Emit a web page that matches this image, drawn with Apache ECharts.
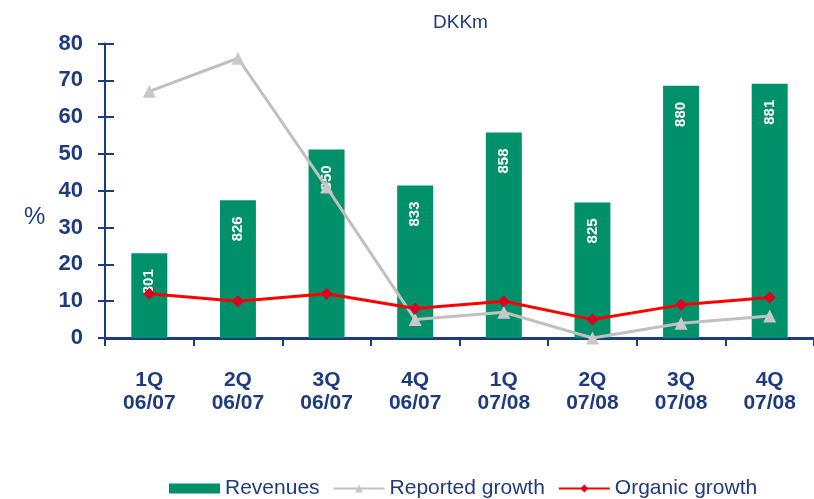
<!DOCTYPE html>
<html>
<head>
<meta charset="utf-8">
<script src="https://cdn.jsdelivr.net/npm/echarts@6/dist/echarts.min.js"></script>
<style>
  html, body { margin: 0; padding: 0; background: #fff; }
  #chart { width: 814px; height: 499px; }
</style>
</head>
<body>
<div id="chart"></div>
<script>
  var quarters = ['1Q\n06/07', '2Q\n06/07', '3Q\n06/07', '4Q\n06/07', '1Q\n07/08', '2Q\n07/08', '3Q\n07/08', '4Q\n07/08'];
  var revenues = [801, 826, 850, 833, 858, 825, 880, 881];
  var reportedGrowth = [67, 76, 41, 5, 7, 0, 4, 6];
  var organicGrowth = [12, 10, 12, 8, 10, 5, 9, 11];
  var pctTicks = [0, 10, 20, 30, 40, 50, 60, 70, 80];

  var navy = '#1f3b7f';
  var font = '"Liberation Sans", Arial, sans-serif';

  var myChart = echarts.init(document.getElementById('chart'));

  var option = {
    animation: false,
    textStyle: { fontFamily: font },
    title: {
      text: 'DKKm',
      left: 428,
      top: 8,
      textStyle: { color: navy, fontSize: 19, fontWeight: 'normal', fontFamily: font }
    },
    graphic: [{
      type: 'text',
      left: 24,
      top: 205,
      style: { text: '%', fill: navy, font: '24px ' + font }
    }],
    legend: {
      left: 164,
      top: 473,
      itemWidth: 51,
      itemHeight: 10,
      itemGap: 13,
      textStyle: { color: navy, fontSize: 21, fontFamily: font },
      data: [{ name: 'Revenues', icon: 'rect' }, 'Reported growth', 'Organic growth']
    },
    grid: {
      left: 105,
      top: 43.5,
      width: 717,
      height: 294.5
    },
    xAxis: {
      type: 'category',
      data: quarters,
      axisLine: { lineStyle: { color: navy, width: 3 } },
      axisTick: { show: true, length: 8, lineStyle: { color: navy, width: 2 } },
      axisLabel: {
        color: navy,
        fontSize: 21,
        fontWeight: 'bold',
        lineHeight: 23,
        margin: 31,
        interval: 0
      }
    },
    yAxis: [{
      type: 'value',
      min: pctTicks[0],
      max: pctTicks[pctTicks.length - 1],
      interval: 10,
      splitLine: { show: false },
      axisLine: { show: true, lineStyle: { color: navy, width: 2 } },
      axisTick: { show: true, length: 7, lineStyle: { color: navy, width: 2 } },
      axisLabel: { color: navy, fontSize: 22, fontWeight: 'bold', margin: 22 }
    }, {
      type: 'value',
      min: 761,
      max: 900,
      show: false,
      splitLine: { show: false }
    }, {
      type: 'value',
      position: 'left',
      min: pctTicks[0],
      max: pctTicks[pctTicks.length - 1],
      interval: 10,
      splitLine: { show: false },
      axisLine: { show: false },
      axisTick: { show: true, inside: true, length: 9, lineStyle: { color: navy, width: 2 } },
      axisLabel: { show: false }
    }],
    series: [{
      name: 'Revenues',
      type: 'bar',
      yAxisIndex: 1,
      data: revenues,
      barWidth: 36,
      itemStyle: { color: '#00906a' },
      label: {
        show: true,
        position: 'insideTop',
        rotate: 90,
        align: 'right',
        verticalAlign: 'middle',
        distance: 16,
        color: '#fff',
        fontSize: 15,
        fontWeight: 'bold'
      }
    }, {
      name: 'Reported growth',
      type: 'line',
      data: reportedGrowth,
      symbol: 'triangle',
      symbolSize: 13,
      lineStyle: { color: '#c0c0c0', width: 3 },
      itemStyle: { color: '#c8c8c8' }
    }, {
      name: 'Organic growth',
      type: 'line',
      data: organicGrowth,
      symbol: 'diamond',
      symbolSize: 12,
      lineStyle: { color: '#ff0000', width: 3 },
      itemStyle: { color: '#dd0022' }
    }]
  };

  myChart.setOption(option);
</script>
</body>
</html>
